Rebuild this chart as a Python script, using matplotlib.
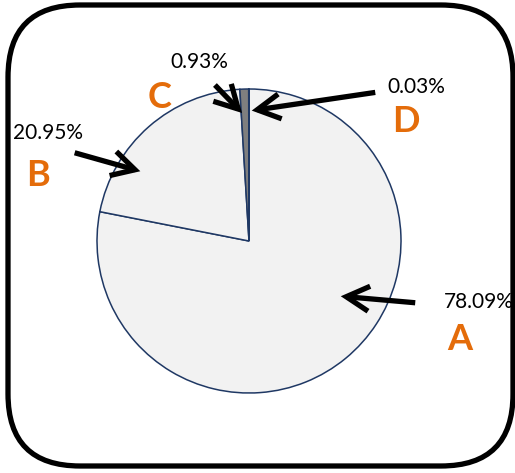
import matplotlib.pyplot as plt
from matplotlib.patches import FancyBboxPatch, FancyArrowPatch

labels = ['A', 'B', 'C', 'D']
values = [78.09, 20.95, 0.93, 0.03]
pct_text = ['78.09%', '20.95%', '0.93%', '0.03%']
colors = ['#F2F2F2', '#F2F2F2', '#7F7F7F', '#595959']

W, H = 515, 473
fig = plt.figure(figsize=(W / 100, H / 100), dpi=100)
ax = fig.add_axes([0, 0, 1, 1])

# rounded frame
frame = FancyBboxPatch((8, H - 466), 505, 461,
                       boxstyle='round,pad=0,rounding_size=72',
                       fc='white', ec='black', lw=3.8, zorder=0)
ax.add_patch(frame)

ax.pie(values, colors=colors, startangle=90, counterclock=False,
       center=(249, H - 241), radius=152,
       wedgeprops=dict(edgecolor='#1F3864', linewidth=1.1), frame=True)
ax.set_xlim(0, W)
ax.set_ylim(0, H)
ax.set_aspect('equal')
ax.axis('off')

orange = '#E46C0A'
pct_font = dict(fontsize=15, family='Lato', color='black', ha='center', va='center')
let_font = dict(fontsize=26, family='Lato', weight='bold', color=orange, ha='center', va='center')

# (pct position, letter position, arrow tail, arrow head) in image pixels
places = {
    'A': ((479, 302), (460, 340), (418, 303), (338, 296)),
    'B': ((48, 133), (38, 175), (72, 152), (143, 172)),
    'C': ((199, 62), (160, 98), (213, 83), (244, 115)),
    'D': ((416, 87), (406, 121), (378, 92), (249, 111)),
}

for lab, pct in zip(labels, pct_text):
    p, l, t, h = places[lab]
    ax.text(p[0], H - p[1], pct, **pct_font)
    ax.text(l[0], H - l[1], lab, **let_font)
    arr = FancyArrowPatch((t[0], H - t[1]), (h[0], H - h[1]),
                          arrowstyle='->,head_length=0.55,head_width=0.3',
                          mutation_scale=30, lw=3.8, color='black',
                          capstyle='butt', joinstyle='miter', zorder=5)
    ax.add_patch(arr)

fig.savefig('out.png', dpi=100)
